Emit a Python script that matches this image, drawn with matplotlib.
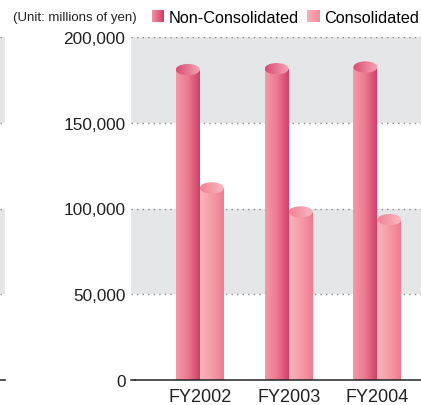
import numpy as np
import matplotlib.pyplot as plt
from matplotlib.patches import Ellipse, Rectangle, Patch
from matplotlib.colors import LinearSegmentedColormap
from matplotlib.legend_handler import HandlerBase

plt.rcParams['font.family'] = ['Liberation Sans', 'DejaVu Sans']

categories = ["FY2002", "FY2003", "FY2004"]
non_consolidated = [181000, 181500, 182500]
consolidated = [112000, 98000, 93500]
series_names = ["Non-Consolidated", "Consolidated"]
yticks = [0, 50000, 100000, 150000, 200000]
unit_label = "(Unit: millions of yen)"

W, H, DPI = 421, 406, 100
fig = plt.figure(figsize=(W / DPI, H / DPI), dpi=DPI)

# main plotting area (pixel based placement)
ax_l, ax_r, ax_b, ax_t = 131, 421, 25, 368
ax = fig.add_axes([ax_l / W, ax_b / H, (ax_r - ax_l) / W, (ax_t - ax_b) / H])
ymax = 200000
ax.set_ylim(0, ymax)
ax.set_xlim(-0.775, 2.49)

band_color = "#e5e6e8"
dot_color = "#8a8a8a"


def draw_bands(a):
    for lo, hi in [(50000, 100000), (150000, 200000)]:
        a.axhspan(lo, hi, color=band_color, lw=0, zorder=0)
    for y in yticks[1:]:
        a.axhline(y, color=dot_color, lw=1.0, ls=(0, (1, 3)), zorder=1)


draw_bands(ax)
ax.axhline(0, xmin=4 / (ax_r - ax_l), xmax=1, color="#222222", lw=1.1, zorder=6,
           clip_on=False)

for s in ax.spines.values():
    s.set_visible(False)
ax.set_yticks(yticks)
ax.set_yticklabels([f"{v:,}" for v in yticks], fontsize=12.4, color="#222222")
ax.tick_params(axis="y", length=0, pad=4)
ax.set_xticks(range(len(categories)))
ax.set_xticklabels(categories, fontsize=13, color="#222222")
ax.tick_params(axis="x", length=0, pad=6)

# short tick beside the zero label
ax.plot([-0.775, -0.775 + 4 / 89], [0, 0], color="#222222", lw=1.1,
        clip_on=False, zorder=6)

cm_non = LinearSegmentedColormap.from_list("non", ["#f59aa8", "#ec7990", "#d03f69"])
cm_con = LinearSegmentedColormap.from_list("con", ["#f9b4bc", "#f59ca8", "#ef7c8e"])
cm_non_top = LinearSegmentedColormap.from_list("nt", ["#d84a73", "#f5a6b2"])
cm_con_top = LinearSegmentedColormap.from_list("ct", ["#f08296", "#f9b8c0"])

bar_w = 0.27
grad = np.linspace(0, 1, 256).reshape(1, -1)
x = np.arange(len(categories))
ell_h = 6600  # vertical extent of the cylinder caps in data units


def cylinder(xc, val, cm_body, cm_top):
    bars = ax.bar([xc], [val], width=bar_w, color="none", lw=0, zorder=3)
    rect = bars[0]
    x0 = xc - bar_w / 2
    im = ax.imshow(grad, cmap=cm_body, aspect="auto",
                   extent=[x0, x0 + bar_w, 0, val], zorder=3, interpolation="bilinear")
    im.set_clip_path(rect)
    ell = Ellipse((xc, val), bar_w, ell_h, facecolor="none", lw=0, zorder=4)
    ax.add_patch(ell)
    im2 = ax.imshow(grad, cmap=cm_top, aspect="auto",
                    extent=[x0, x0 + bar_w, val - ell_h / 2, val + ell_h / 2],
                    zorder=4, interpolation="bilinear")
    im2.set_clip_path(ell)


for i in range(len(categories)):
    cylinder(x[i] - bar_w / 2, non_consolidated[i], cm_non, cm_non_top)
    cylinder(x[i] + bar_w / 2, consolidated[i], cm_con, cm_con_top)
ax.set_xlim(-0.775, 2.49)
ax.set_ylim(0, ymax)

# remnant strip on the far left edge
ax2 = fig.add_axes([0, ax_b / H, 5 / W, (ax_t - ax_b) / H])
ax2.set_ylim(0, ymax)
ax2.set_xlim(0, 1)
draw_bands(ax2)
ax2.axhline(0, color="#222222", lw=1.1, clip_on=False)
ax2.axis("off")


class GradientHandler(HandlerBase):
    def __init__(self, cmap):
        super().__init__()
        self.cmap = cmap

    def create_artists(self, legend, orig_handle, xdescent, ydescent, width,
                       height, fontsize, trans):
        n = 12
        arts = []
        for k in range(n):
            r = Rectangle((-xdescent + width * k / n, -ydescent), width / n + 0.3,
                          height, facecolor=self.cmap(k / (n - 1)), lw=0,
                          transform=trans)
            arts.append(r)
        return arts


h1 = Patch(label=series_names[0])
h2 = Patch(label=series_names[1])
leg_non = LinearSegmentedColormap.from_list("ln", ["#f08ea2", "#d23c68"])
leg_con = LinearSegmentedColormap.from_list("lc", ["#f9adb6", "#f3909e"])
fig.legend(handles=[h1, h2], loc="upper right", bbox_to_anchor=(419 / W, 1 - 11 / H),
           ncol=2, frameon=False, fontsize=11.7, handlelength=0.75, handleheight=0.75,
           handletextpad=0.3, columnspacing=0.5, borderaxespad=0, borderpad=0,
           handler_map={h1: GradientHandler(leg_non), h2: GradientHandler(leg_con)})

fig.text(13 / W, 1 - 18 / H, unit_label, fontsize=9.5, color="#222222",
         ha="left", va="center")

fig.savefig("out.png", dpi=DPI)
